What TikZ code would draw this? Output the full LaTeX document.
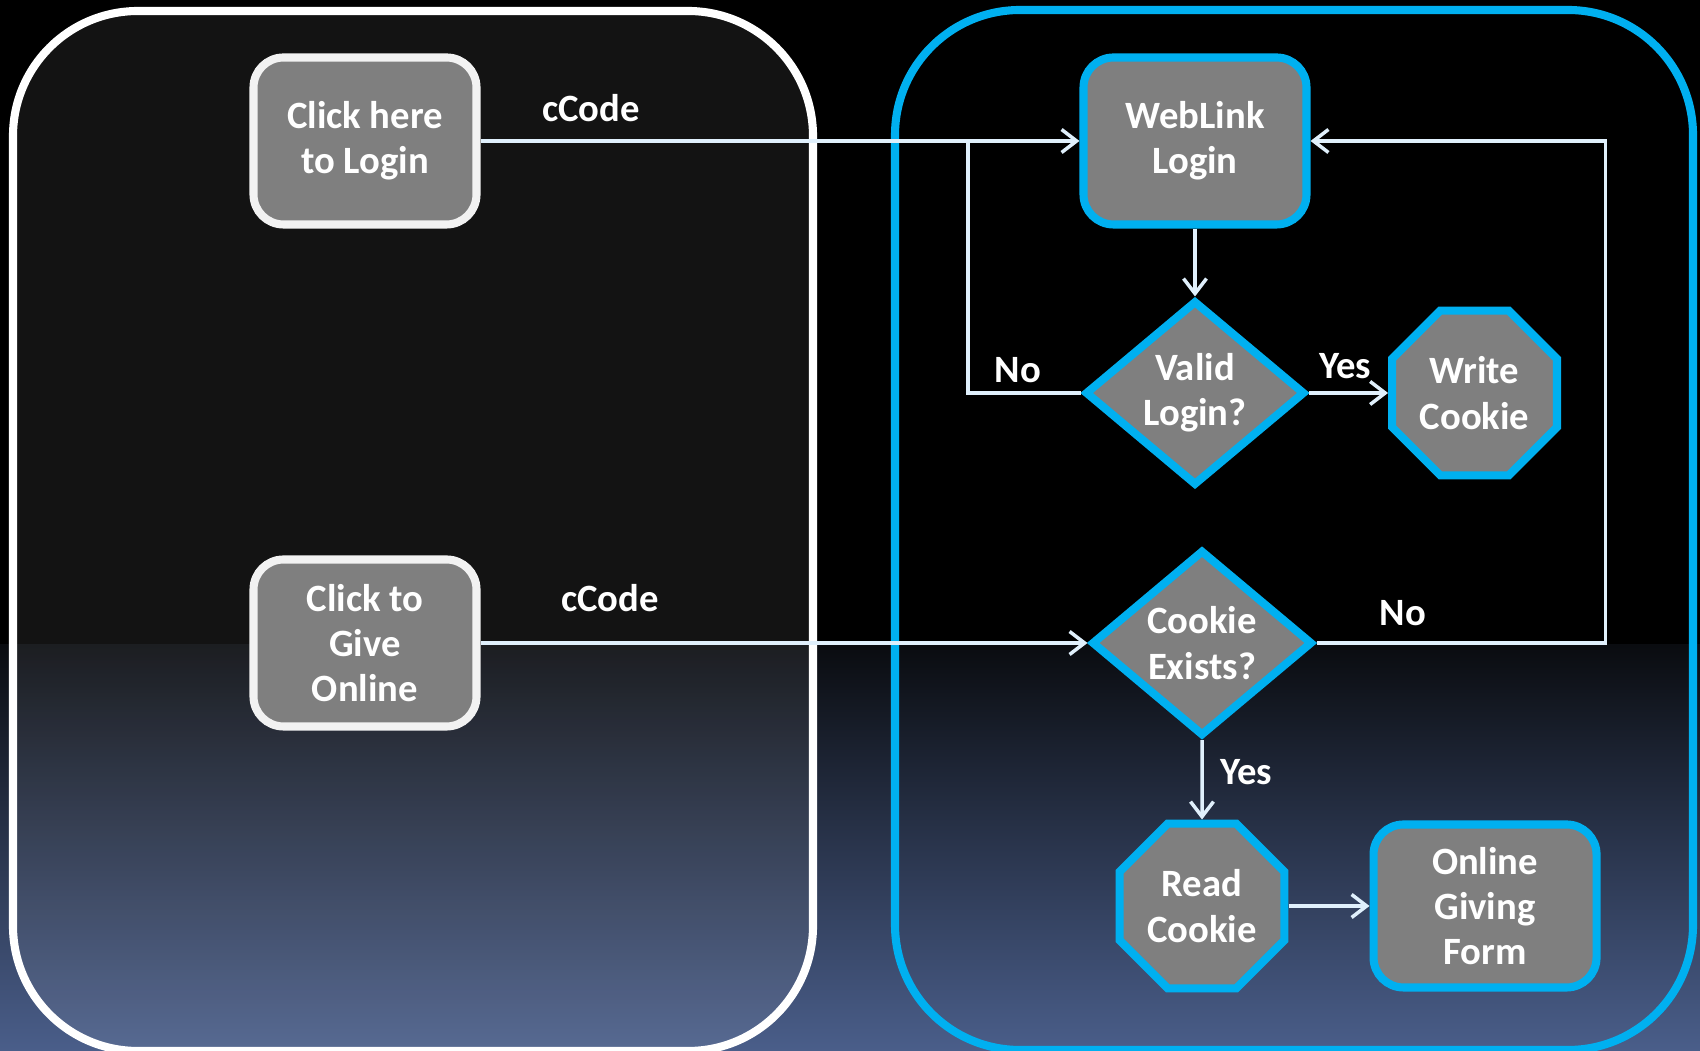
\documentclass[tikz,border=0pt]{standalone}
\usepackage{fontspec}
\setmainfont{Carlito}
\usetikzlibrary{shapes.geometric, arrows.meta, positioning}
\definecolor{LinkCyan}{RGB}{0, 176, 240}
\definecolor{LinkGray}{RGB}{127, 127, 127}
\definecolor{LinkPaper}{RGB}{242, 242, 242}
\definecolor{LinkWire}{RGB}{224, 240, 252}
\definecolor{LinkSlate}{RGB}{74, 94, 138}
\definecolor{LinkNight}{RGB}{10, 12, 16}

\begin{document}
\begin{tikzpicture}[
    >={Straight Barb[length=1.5mm, width=2.3mm]},
    % Define styles for the elements
    panel/.style={
        rectangle,
        rounded corners=1.25cm,
        draw=#1,
        line width=2.3pt,
        minimum width=8cm,
        minimum height=10.4cm
    },
    site button/.style={
        rectangle,
        rounded corners=0.3cm,
        draw=LinkPaper,         % near white outline
        fill=LinkGray,
        line width=2.3pt,
        align=center,
        text=white,
        font=\fontsize{11}{12.9}\selectfont\bfseries,
        minimum width=2.23cm,
        minimum height=1.67cm
    },
    flow box/.style={
        site button,
        draw=LinkCyan           % cyan outline for the WebLink side
    },
    decision/.style={
        diamond,
        draw=LinkCyan,
        fill=LinkGray,
        line width=2.3pt,
        inner sep=0pt,
        align=center,
        text=white,
        font=\fontsize{11}{12.9}\selectfont\bfseries,
        minimum width=2.2cm,
        minimum height=1.85cm
    },
    octagon/.style={
        regular polygon,
        regular polygon sides=8,
        draw=LinkCyan,
        fill=LinkGray,
        line width=2.3pt,
        inner sep=1pt,
        align=center,
        text=white,
        font=\fontsize{11}{12.9}\selectfont\bfseries,
        minimum size=1.71cm
    },
    tag/.style={
        text=white,
        inner sep=1pt,
        font=\fontsize{11}{12.9}\selectfont\bfseries
    },
    wire/.style={
        draw=LinkWire,
        line width=1pt
    },
    link/.style={
        wire,
        ->
    }
]

    % --- Background ---
    \useasboundingbox (0,0) rectangle (17,10.51);
    \clip (0,0) rectangle (17,10.51);
    \fill[black] (0,4.06) rectangle (17,10.51);
    \shade[bottom color=LinkSlate, top color=LinkNight] (0,0) rectangle (17,4.06);

    % --- Panels ---
    \node[panel=white, fill=white, fill opacity=0.075] (site) at (4.13,5.20) {};
    \node[panel=LinkCyan, minimum width=7.98cm] (portal) at (12.94,5.21) {};

    % --- Site buttons ---
    \node[site button] (login) at (3.65,9.10) {Click here\\to Login};
    \node[site button] (give) at (3.65,4.08) {Click to\\Give\\Online};

    % --- WebLink flow ---
    \node[flow box] (weblink) at (11.95,9.10) {WebLink\\Login};
    \node[decision] (valid) at (11.95,6.58) {Valid\\Login?};
    \node[octagon, right=0.79cm of valid] (write) {Write\\Cookie};
    \node[decision, minimum width=2.21cm, minimum height=1.86cm] (cookie) at (12.02,4.08) {Cookie\\Exists?};
    \node[octagon] (read) at (12.02,1.45) {Read\\Cookie};
    \node[flow box, minimum height=1.63cm, right=0.81cm of read] (form) {Online\\Giving\\Form};

    % --- Labels ---
    \node[tag] (codelogin) at (5.91,9.43) {cCode};
    \node[tag] (codegive) at (6.10,4.53) {cCode};
    \node[tag] (nologin) at (10.18,6.81) {No};
    \node[tag] (yeswrite) at (13.45,6.85) {Yes};
    \node[tag] (nocookie) at (14.03,4.38) {No};
    \node[tag] (yesread) at (12.46,2.79) {Yes};

    % --- Connections ---
    \coordinate (retry) at (9.68,9.10);
    \draw[link] (login.east) -- (weblink.west);
    \draw[wire] (valid.west) -| (retry);
    \draw[link] (weblink.south) -- (valid.north);
    \draw[link] (valid.east) -- (write.west);
    \draw[link] (give.east) -- (cookie.west);
    \draw[link] (cookie.east) -- ++(2.89,0) |- (weblink.east);
    \draw[link] (cookie.south) -- (read.north);
    \draw[link] (read.east) -- (form.west);

\end{tikzpicture}
\end{document}
